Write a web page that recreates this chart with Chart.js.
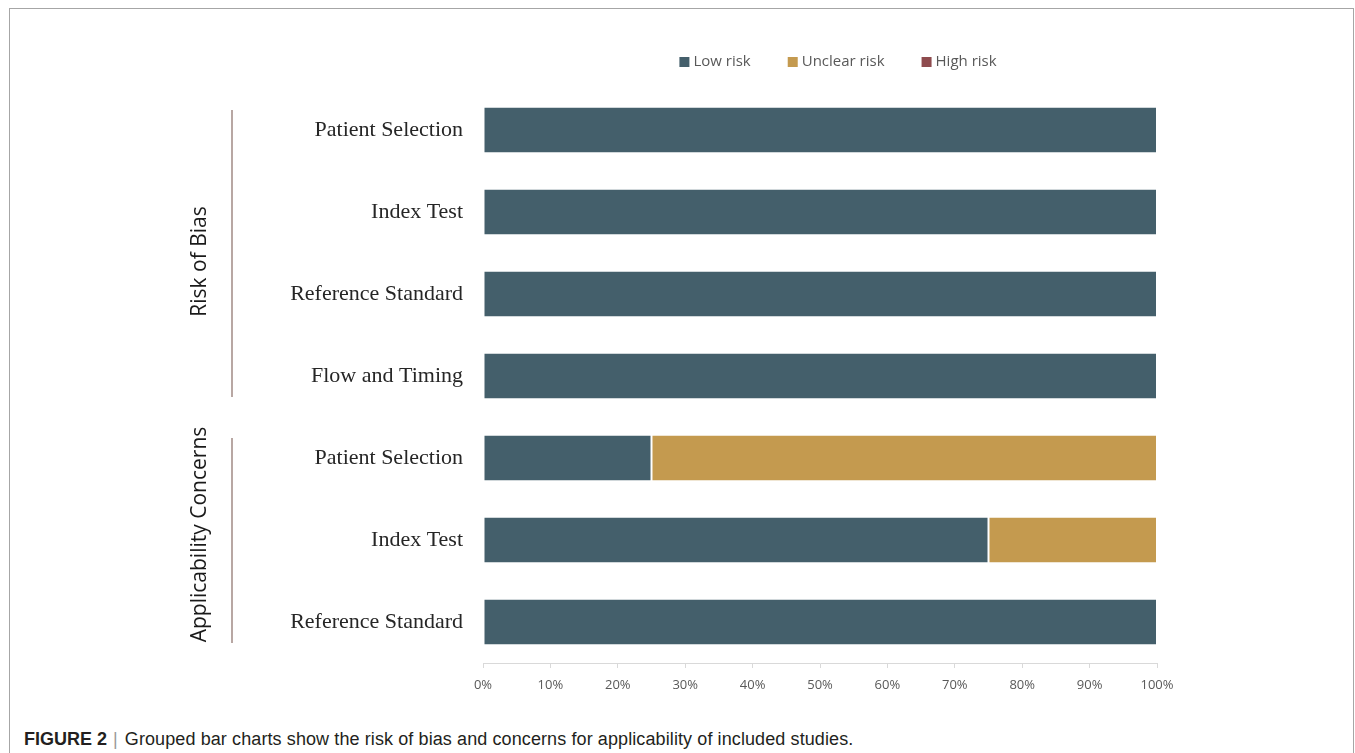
<!DOCTYPE html>
<html>
<head>
<meta charset="utf-8">
<script src="https://cdn.jsdelivr.net/npm/chart.js@4"></script>
<style>
  body { margin: 0; background: #fff; width: 1355px; height: 753px; overflow: hidden; position: relative; }
  #frame { position: absolute; left: 9px; top: 8px; width: 1343px; height: 800px; border: 1px solid #a6a6a6; }
  #myChart { position: absolute; left: 0; top: 0; }
  #caption { position: absolute; left: 24px; top: 729px; font-family: 'Liberation Sans', Arial, sans-serif;
    font-size: 18px; color: #231f20; white-space: nowrap; letter-spacing: 0.1px; }
  #caption b { letter-spacing: 0; }
  #caption .bar { color: #9a9a9a; margin: 0 7px 0 6px; }
</style>
</head>
<body>
<div id="frame"></div>
<canvas id="myChart" width="1355" height="700"></canvas>
<div id="caption"><b>FIGURE 2</b><span class="bar">|</span>Grouped bar charts show the risk of bias and concerns for applicability of included studies.</div>
<script>
// data
const categories = ['Patient Selection', 'Index Test', 'Reference Standard', 'Flow and Timing',
  'Patient Selection', 'Index Test', 'Reference Standard'];
const lowRisk = [100, 100, 100, 100, 25, 75, 100];
const unclearRisk = [0, 0, 0, 0, 75, 25, 0];
const highRisk = [0, 0, 0, 0, 0, 0, 0];
const xTicks = [0, 10, 20, 30, 40, 50, 60, 70, 80, 90, 100];
const groups = [
  { name: 'Risk of Bias', from: 0, to: 3 },
  { name: 'Applicability Concerns', from: 4, to: 6 }
];

const colors = ['#445f6b', '#c49a4f', '#8e4b4e'];

// group labels + bracket lines on the left
const labelShift = [8, -6];
const groupLabels = {
  id: 'groupLabels',
  afterDraw(chart) {
    const { ctx, scales: { y } } = chart;
    ctx.save();
    groups.forEach((g, i) => {
      const y1 = y.getPixelForValue(g.from) - 20;
      const y2 = y.getPixelForValue(g.to) + 21;
      ctx.strokeStyle = '#a08a84';
      ctx.lineWidth = 1.5;
      ctx.beginPath();
      ctx.moveTo(232, y1);
      ctx.lineTo(232, y2);
      ctx.stroke();

      ctx.save();
      ctx.translate(200, (y1 + y2) / 2 + labelShift[i]);
      ctx.rotate(-Math.PI / 2);
      ctx.font = '21px "Open Sans", sans-serif';
      ctx.fillStyle = '#1a1a1a';
      ctx.textAlign = 'center';
      ctx.textBaseline = 'middle';
      ctx.fillText(g.name, 0, 0);
      ctx.restore();
    });
    ctx.restore();
  }
};

// legend drawn by hand so it can sit where the original one is
const topLegend = {
  id: 'topLegend',
  afterDraw(chart) {
    const { ctx } = chart;
    ctx.save();
    ctx.font = '15px "Open Sans", sans-serif';
    ctx.textBaseline = 'middle';
    const gap = 37;
    const widths = chart.data.datasets.map(ds => 14 + ctx.measureText(ds.label).width);
    const total = widths.reduce((a, b) => a + b, 0) + gap * (widths.length - 1);
    let x = 838 - total / 2;
    const yc = 62;
    chart.data.datasets.forEach((ds, i) => {
      ctx.fillStyle = ds.backgroundColor;
      ctx.fillRect(x, yc - 5, 10, 10);
      ctx.fillStyle = '#595959';
      ctx.fillText(ds.label, x + 14, yc);
      x += widths[i] + gap;
    });
    ctx.restore();
  }
};

const config = {
  type: 'bar',
  data: {
    labels: categories,
    datasets: [
      { label: 'Low risk', data: lowRisk, backgroundColor: colors[0] },
      { label: 'Unclear risk', data: unclearRisk, backgroundColor: colors[1] },
      { label: 'High risk', data: highRisk, backgroundColor: colors[2] }
    ].map(ds => Object.assign(ds, {
      borderColor: 'rgba(255,255,255,0.35)',
      borderWidth: 1,
      borderSkipped: false,
      categoryPercentage: 0.57,
      barPercentage: 1
    }))
  },
  options: {
    indexAxis: 'y',
    responsive: false,
    animation: false,
    layout: { padding: { top: 89, right: 198, left: 0, bottom: 0 } },
    plugins: { legend: { display: false }, tooltip: { enabled: false } },
    scales: {
      x: {
        stacked: true,
        min: 0,
        max: 100,
        afterBuildTicks(scale) { scale.ticks = xTicks.map(v => ({ value: v })); },
        afterFit(scale) { scale.height = 37; },
        grid: { drawOnChartArea: false, drawTicks: true, tickLength: 5, color: '#d9d9d9' },
        border: { display: true, color: '#d9d9d9' },
        ticks: {
          padding: 9,
          color: '#595959',
          font: { family: '"Open Sans", sans-serif', size: 13 },
          callback: v => v + '%'
        }
      },
      y: {
        stacked: true,
        afterFit(scale) { scale.width = 483; },
        grid: { display: false, drawTicks: false },
        border: { display: false },
        ticks: {
          padding: 20,
          color: '#262626',
          font: { family: '"Liberation Serif", "DejaVu Serif", serif', size: 22 }
        }
      }
    }
  },
  plugins: [groupLabels, topLegend]
};

const myChart = new Chart(document.getElementById('myChart'), config);
</script>
</body>
</html>
